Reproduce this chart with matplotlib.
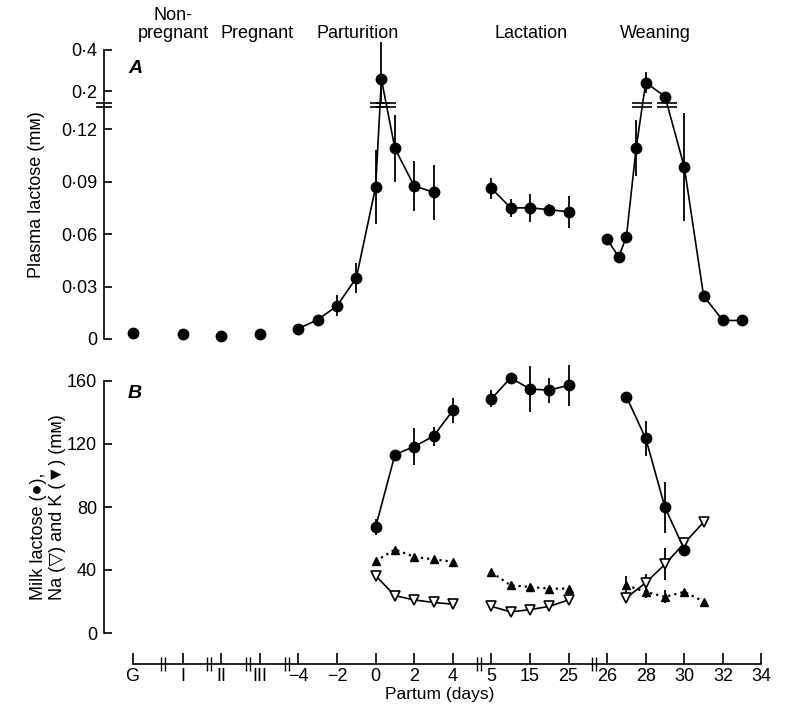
import numpy as np
import matplotlib
matplotlib.use("Agg")
import matplotlib.pyplot as plt
import matplotlib.transforms as mtransforms
from matplotlib.path import Path

plt.rcParams['font.family'] = ['Liberation Sans', 'DejaVu Sans']
plt.rcParams['font.size'] = 13

# ---------------- data ----------------
x_tick_labels = ['G', 'I', 'II', 'III', '−4', '−2', '0', '2', '4', '5', '15', '25',
                 '26', '28', '30', '32', '34']
x_tick_slots = [-4.3, -3, -2, -1, 0, 1, 2, 3, 4, 5, 6, 7, 8, 9, 10, 11, 12]
x_break_slots = [-3.5, -2.32, -1.31, -0.31, 4.69, 7.66]
phases = ['Non-\npregnant', 'Pregnant', 'Parturition', 'Lactation', 'Weaning']

# Panel A: plasma lactose (mM)
pre_groups = ['G', 'I', 'II', 'III']
pre_A = [0.0035, 0.003, 0.002, 0.003]
part_A_days = [-4, -3, -2, -1, 0, 0.3, 1, 2, 3]
part_A = [0.006, 0.011, 0.019, 0.035, 0.087, 0.258, 0.109, 0.0875, 0.084]
part_A_err_lo = [0, 0.002, 0.006, 0.0087, 0.021, 0.12, 0.019, 0.0145, 0.0157]
part_A_err_hi = [0, 0.002, 0.006, 0.0087, 0.021, 0.18, 0.019, 0.0145, 0.0157]
lact_A_days = [5, 10, 15, 20, 25]
lact_A = [0.0862, 0.075, 0.075, 0.074, 0.0727]
lact_A_err = [0.006, 0.005, 0.008, 0.003, 0.009]
wean_A_days = [26, 26.6, 27, 27.5, 28, 29, 30, 31, 32, 33]
wean_A = [0.057, 0.047, 0.0586, 0.109, 0.243, 0.175, 0.0983, 0.0246, 0.0106, 0.0106]
wean_A_err = [0.003, 0, 0, 0.016, 0.05, 0, 0.031, 0, 0, 0]

# Panel B: milk lactose, Na, K (mM)
part_B_days = [0, 1, 2, 3, 4]
part_B_lac = [67.3, 113.2, 118.4, 125, 141.3]
part_B_lac_err = [5, 3, 12, 6, 8]
part_B_na = [36.4, 23.7, 21, 19.4, 18.3]
part_B_k = [45.7, 53, 48.4, 46.7, 45.3]
lact_B_days = [5, 10, 15, 20, 25]
lact_B_lac = [148.7, 162, 154.9, 154.2, 157.3]
lact_B_lac_err = [5.5, 3, 14.5, 8, 13]
lact_B_na = [16.9, 13.4, 14.8, 16.9, 21]
lact_B_k = [38.5, 30.3, 29.2, 28.2, 28.2]
wean_B_lac_days = [27, 28, 29, 30]
wean_B_lac = [150, 123.5, 79.7, 53]
wean_B_lac_err = [0, 11, 16, 4]
wean_B_days = [27, 28, 29, 30, 31]
wean_B_na = [22.4, 31.9, 43.7, 57, 70.4]
wean_B_na_err = [0, 5.5, 10, 0, 0]
wean_B_k = [30.3, 26.1, 23, 26.1, 20]
wean_B_k_err = [6, 4, 4, 0, 0]

A_yticks = [0, 0.03, 0.06, 0.09, 0.12, 0.2, 0.4]
B_yticks = [0, 40, 80, 120, 160]


# ---------------- axis mappings ----------------
def part_slot(d):
    return (np.asarray(d, float) + 4) / 2


def lact_slot(d):
    return 5 + (np.asarray(d, float) - 5) / 10


def wean_slot(d):
    return 8 + (np.asarray(d, float) - 26) / 2


YB = 0.1337          # broken y-axis value in panel A
UP0, UPK = 0.1416, 0.1185


def fwd(y):
    y = np.asarray(y, float)
    return np.where(y <= YB, y, UP0 + (y - 0.2) * UPK)


def inv(u):
    u = np.asarray(u, float)
    return np.where(u <= YB, u, 0.2 + (u - UP0) / UPK)


def fmt(v):
    return ('%g' % v).replace('.', '·')


eq_marker = Path([(-1, -0.2), (1, -0.2), (-1, 0.2), (1, 0.2)],
                 [Path.MOVETO, Path.LINETO, Path.MOVETO, Path.LINETO])
bar_marker = Path([(-0.3, -1), (-0.3, 1), (0.3, -1), (0.3, 1)],
                  [Path.MOVETO, Path.LINETO, Path.MOVETO, Path.LINETO])

# ---------------- figure ----------------
W, H = 788, 709
fig = plt.figure(figsize=(W / 100, H / 100), dpi=100)


def fig_rect(left, top, right, bottom):
    return [left / W, 1 - bottom / H, (right - left) / W, (bottom - top) / H]


XL = (-5.04, 12.35)
axA = fig.add_axes(fig_rect(104, 50, 775, 339))
axB = fig.add_axes(fig_rect(104, 381, 775, 633))
axX = fig.add_axes(fig_rect(104, 654, 775, 664))

LW = 1.2
circ = dict(marker='o', ms=7.5, mfc='black', mec='black', color='black', lw=LW, clip_on=False)
errkw = dict(fmt='none', ecolor='black', elinewidth=1.3, capsize=0, clip_on=False)

for ax in (axA, axB, axX):
    ax.set_xlim(*XL)
    for s in ('top', 'right'):
        ax.spines[s].set_visible(False)
    ax.patch.set_alpha(0)

# ----- Panel A -----
axA.set_yscale('function', functions=(fwd, inv))
axA.set_ylim(0, 0.4)
axA.spines['bottom'].set_visible(False)
axA.set_xticks([])
axA.set_yticks(A_yticks)
axA.set_yticklabels([fmt(v) for v in A_yticks])
axA.tick_params(axis='y', direction='in', length=6, width=1.2, labelsize=13, pad=5)
axA.spines['left'].set_linewidth(1.2)

pre_slots = [x_tick_slots[x_tick_labels.index(g)] for g in pre_groups]
axA.plot(pre_slots, pre_A, ls='none', **{k: v for k, v in circ.items() if k != 'lw'})

segsA = [(part_slot(part_A_days), part_A, part_A_err_lo, part_A_err_hi),
         (lact_slot(lact_A_days), lact_A, lact_A_err, lact_A_err),
         (wean_slot(wean_A_days), wean_A, wean_A_err, wean_A_err)]
for xs, ys, elo, ehi in segsA:
    axA.errorbar(xs, ys, yerr=[elo, ehi], **errkw)
    axA.plot(xs, ys, **circ)
    # break marks where line segments cross the axis break
    us = fwd(ys)
    for i in range(len(xs) - 1):
        u1, u2 = us[i], us[i + 1]
        if (u1 - YB) * (u2 - YB) < 0:
            xc = xs[i] + (YB - u1) / (u2 - u1) * (xs[i + 1] - xs[i])
            axA.plot([xc], [YB], marker=eq_marker, ms=14, mew=1.2, color='black', ls='none')

axA.plot([0], [YB], marker=eq_marker, ms=11, mew=1.2, color='black', ls='none',
         transform=axA.get_yaxis_transform(), clip_on=False)
axA.yaxis.set_label_coords(-0.088, 0.54)
axA.set_ylabel('Plasma lactose (mᴍ)', fontsize=13)
axA.text(0.036, 0.935, 'A', transform=axA.transAxes, fontsize=14,
         fontweight='bold', fontstyle='italic', va='center', ha='left')

# ----- Panel B -----
axB.set_ylim(0, 160)
axB.spines['bottom'].set_visible(False)
axB.set_xticks([])
axB.set_yticks(B_yticks)
axB.tick_params(axis='y', direction='in', length=6, width=1.2, labelsize=13, pad=5)
axB.spines['left'].set_linewidth(1.2)

k_style = dict(marker='^', ms=6, mfc='black', mec='black', color='black', lw=1.6,
               ls=(0, (1, 1.8)), clip_on=False)
na_style = dict(marker='v', ms=6.5, mfc='white', mec='black', mew=1.2, color='black',
                lw=LW, clip_on=False)

groupsB = [(part_slot(part_B_days), part_B_lac, part_B_lac_err, part_slot(part_B_days),
            part_B_na, None, part_B_k, None),
           (lact_slot(lact_B_days), lact_B_lac, lact_B_lac_err, lact_slot(lact_B_days),
            lact_B_na, None, lact_B_k, None),
           (wean_slot(wean_B_lac_days), wean_B_lac, wean_B_lac_err, wean_slot(wean_B_days),
            wean_B_na, wean_B_na_err, wean_B_k, wean_B_k_err)]
for xl, yl, el, xi, yna, ena, yk, ek in groupsB:
    axB.errorbar(xl, yl, yerr=el, **errkw)
    if ena is not None:
        axB.errorbar(xi, yna, yerr=ena, **errkw)
        axB.errorbar(xi, yk, yerr=ek, **errkw)
    axB.plot(xi, yk, **k_style)
    axB.plot(xi, yna, **na_style)
    axB.plot(xl, yl, **circ)

axB.yaxis.set_label_coords(-0.056, 0.43)
axB.set_ylabel('Milk lactose (●),\nNa (▽) and K (▼) (mᴍ)', fontsize=13,
               multialignment='left', linespacing=1.2)
axB.text(0.036, 0.95, 'B', transform=axB.transAxes, fontsize=14,
         fontweight='bold', fontstyle='italic', va='center', ha='left')

# ----- shared x axis -----
axX.spines['left'].set_visible(False)
axX.set_yticks([])
axX.spines['bottom'].set_bounds(x_tick_slots[0], x_tick_slots[-1])
axX.spines['bottom'].set_linewidth(1.2)
axX.set_xticks(x_tick_slots)
axX.set_xticklabels(x_tick_labels)
axX.tick_params(axis='x', direction='in', length=8, width=1.2, labelsize=13, pad=3)
axX.set_xlabel('Partum (days)', fontsize=12.5, labelpad=1)
axX.plot(x_break_slots, [0] * len(x_break_slots), marker=bar_marker, ms=10, mew=1.0,
         color='black', ls='none', transform=axX.get_xaxis_transform(), clip_on=False)

# ----- phase labels -----
phase_x = [-3.25, -1.08, 1.53, 6.03, 9.26]
tr = mtransforms.blended_transform_factory(axA.transData, fig.transFigure)
for lab, xp in zip(phases, phase_x):
    axA.text(xp, 1 - 42 / H, lab, transform=tr, ha='center', va='bottom',
             fontsize=13, linespacing=1.1)

fig.savefig('out.png', dpi=100, facecolor='white')
